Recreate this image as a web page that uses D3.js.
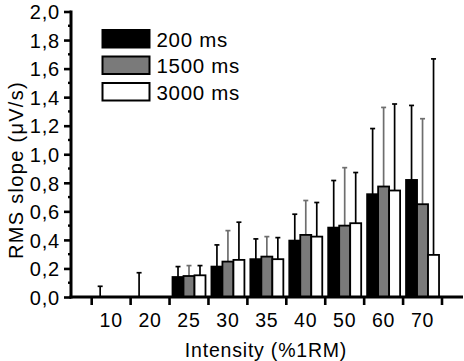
<!DOCTYPE html>
<html>
<head>
<meta charset="utf-8">
<script src="https://cdn.jsdelivr.net/npm/d3@7"></script>
<style>
  body { margin: 0; background: #fff; }
  text { font-family: "Liberation Sans", Arial, sans-serif; fill: #000; }
</style>
</head>
<body>
<div id="chart"></div>
<script>
// Data
const categories = ["10", "20", "25", "30", "35", "40", "50", "60", "70"];
const series = ["200 ms", "1500 ms", "3000 ms"];
const mean200 = [0, 0, 0.14, 0.213, 0.265, 0.395, 0.486, 0.72, 0.82];
const mean1500 = [0, 0, 0.147, 0.248, 0.283, 0.435, 0.50, 0.774, 0.65];
const mean3000 = [0, 0, 0.152, 0.26, 0.265, 0.423, 0.517, 0.746, 0.295];
const sd200 = [0.075, 0.17, 0.073, 0.152, 0.142, 0.185, 0.33, 0.46, 0.522];
const sd1500 = [0, 0, 0.073, 0.217, 0.14, 0.241, 0.406, 0.554, 0.599];
const sd3000 = [0, 0, 0.068, 0.264, 0.151, 0.239, 0.355, 0.606, 1.373];
const yTicks = [0, 0.2, 0.4, 0.6, 0.8, 1.0, 1.2, 1.4, 1.6, 1.8, 2.0];

const means = [mean200, mean1500, mean3000];
const sds = [sd200, sd1500, sd3000];
const fills = ["#000000", "#7a7a7a", "#ffffff"];
const errColors = ["#000000", "#6e6e6e", "#000000"];

const W = 464, H = 361;
const axisLeft = 71, axisRight = 463, baseY = 297;

const svg = d3.select("#chart")
    .append("svg")
    .attr("width", W)
    .attr("height", H);

// Scales
const x = d3.scaleBand()
    .domain(categories)
    .range([91.7, 442])
    .padding(0);

const xs = d3.scaleBand()
    .domain(series)
    .range([0, x.bandwidth()])
    .paddingInner(0)
    .paddingOuter(0.27);

const y = d3.scaleLinear()
    .domain([0, 2])
    .range([baseY, 11.5]);

// Bars and error bars
series.forEach((s, si) => {
    categories.forEach((c, ci) => {
        const m = means[si][ci], sd = sds[si][ci];
        const bx = x(c) + xs(s);
        const cx = bx + xs.bandwidth() / 2;
        if (sd > 0) {
            svg.append("line")
                .attr("x1", cx).attr("x2", cx)
                .attr("y1", y(m)).attr("y2", y(m + sd))
                .attr("stroke", errColors[si])
                .attr("stroke-width", 1.7);
            svg.append("line")
                .attr("x1", cx - 2.5).attr("x2", cx + 2.5)
                .attr("y1", y(m + sd)).attr("y2", y(m + sd))
                .attr("stroke", errColors[si])
                .attr("stroke-width", 1.7);
        }
        if (m > 0) {
            svg.append("rect")
                .attr("x", bx)
                .attr("y", y(m))
                .attr("width", xs.bandwidth())
                .attr("height", y(0) - y(m))
                .attr("fill", fills[si])
                .attr("stroke", "#000")
                .attr("stroke-width", 1.8);
        }
    });
});

// Y axis
const yAxis = svg.append("g")
    .attr("transform", `translate(${axisLeft},0)`)
    .call(d3.axisLeft(y).tickValues(yTicks).tickSize(7).tickPadding(4)
        .tickFormat(d => d3.format(".1f")(d).replace(".", ",")));
yAxis.select(".domain").remove();
yAxis.selectAll(".tick line").attr("stroke", "#000").attr("stroke-width", 2.6);
yAxis.selectAll(".tick text")
    .style("font-size", "20px")
    .style("letter-spacing", "0.8px")
    .attr("dy", "0.36em");

// minor y ticks
svg.append("g")
    .selectAll("line")
    .data(d3.range(0.1, 2, 0.2))
    .join("line")
    .attr("x1", axisLeft - 3).attr("x2", axisLeft)
    .attr("y1", d => y(d)).attr("y2", d => y(d))
    .attr("stroke", "#000")
    .attr("stroke-width", 2.4);

svg.append("line")
    .attr("x1", axisLeft).attr("x2", axisLeft)
    .attr("y1", y(2) - 1).attr("y2", baseY + 1.5)
    .attr("stroke", "#000")
    .attr("stroke-width", 3);

// X axis
svg.append("line")
    .attr("x1", axisLeft - 1.5).attr("x2", axisRight)
    .attr("y1", baseY).attr("y2", baseY)
    .attr("stroke", "#000")
    .attr("stroke-width", 3);

const bounds = categories.map(c => x(c)).concat([x.range()[1]]);
svg.append("g")
    .selectAll("line")
    .data(bounds)
    .join("line")
    .attr("x1", d => d).attr("x2", d => d)
    .attr("y1", baseY).attr("y2", baseY + 8)
    .attr("stroke", "#000")
    .attr("stroke-width", 2.6);

svg.append("g")
    .selectAll("text")
    .data(categories)
    .join("text")
    .attr("x", d => x(d) + x.bandwidth() / 2)
    .attr("y", 326.5)
    .attr("text-anchor", "middle")
    .style("font-size", "19.5px")
    .style("letter-spacing", "0.8px")
    .text(d => d);

// Axis titles
svg.append("text")
    .attr("x", 266)
    .attr("y", 356.5)
    .attr("text-anchor", "middle")
    .style("font-size", "19.5px")
    .style("letter-spacing", "0.8px")
    .text("Intensity (%1RM)");

svg.append("text")
    .attr("transform", "translate(23,170) rotate(-90)")
    .attr("text-anchor", "middle")
    .style("font-size", "20px")
    .style("letter-spacing", "1.3px")
    .text("RMS slope (\u03bcV/s)");

// Legend
const legend = svg.append("g");
series.forEach((s, i) => {
    const ly = 30 + i * 26.5;
    legend.append("rect")
        .attr("x", 102.5).attr("y", ly)
        .attr("width", 47).attr("height", 17.5)
        .attr("fill", fills[i])
        .attr("stroke", "#000")
        .attr("stroke-width", 2);
    legend.append("text")
        .attr("x", 156.5).attr("y", ly + 16.5)
        .style("font-size", "20.5px")
        .style("letter-spacing", "0.7px")
        .text(s);
});
</script>
</body>
</html>
